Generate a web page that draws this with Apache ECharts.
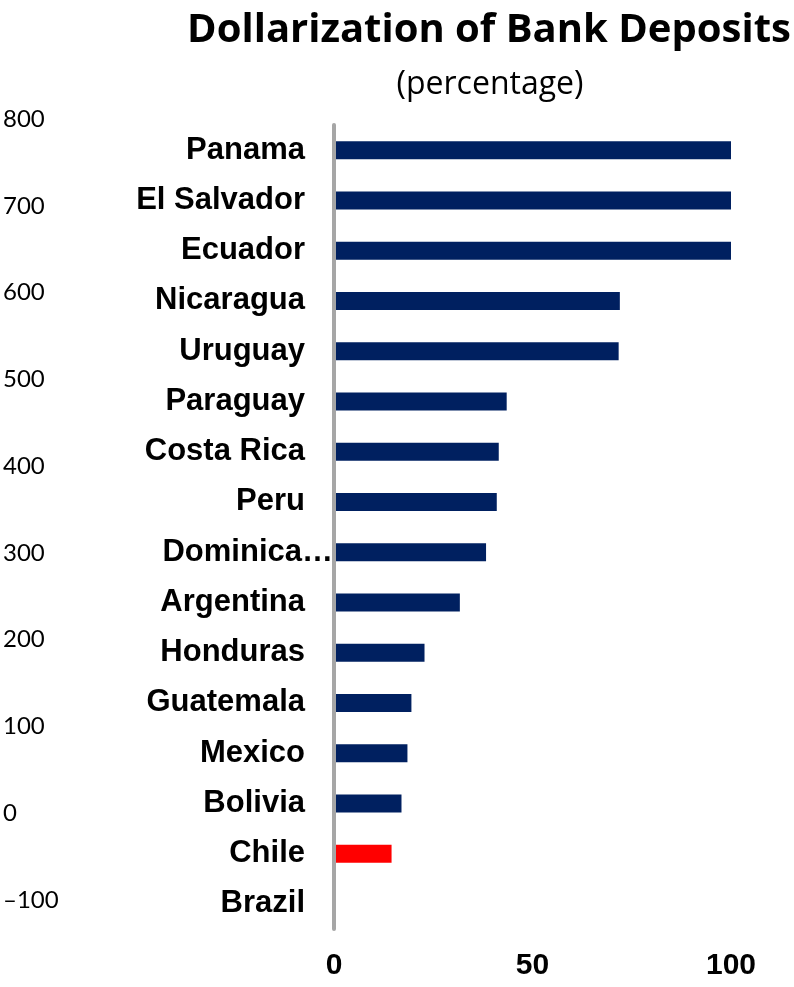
<!DOCTYPE html>
<html>
<head>
<meta charset="utf-8">
<script src="https://cdn.jsdelivr.net/npm/echarts@6/dist/echarts.min.js"></script>
<style>
  html, body { margin: 0; padding: 0; background: #fff; }
  #main { width: 794px; height: 987px; }
</style>
</head>
<body>
<div id="main"></div>
<script>
var countries = ['Panama', 'El Salvador', 'Ecuador', 'Nicaragua', 'Uruguay', 'Paraguay',
    'Costa Rica', 'Peru', 'Dominican Republic', 'Argentina', 'Honduras', 'Guatemala',
    'Mexico', 'Bolivia', 'Chile', 'Brazil'];
var dollarization = [100, 100, 100, 72, 71.7, 43.5, 41.5, 41, 38.3, 31.7, 22.8, 19.5, 18.5, 17, 14.5, 0];
var highlight = 'Chile';
var xTicks = [0, 50, 100];
var leftTicks = [-100, 800, 100]; // min, max, step of the stray left axis

var myChart = echarts.init(document.getElementById('main'));

var barData = countries.map(function (c, i) {
    return {
        value: dollarization[i],
        itemStyle: { color: c === highlight ? '#ff0000' : '#002060' }
    };
});

var labelFont = { color: '#000', fontFamily: 'Liberation Sans', fontWeight: 'bold', fontSize: 31 };

var option = {
    animation: false,
    title: [
        {
            text: 'Dollarization of Bank Deposits',
            left: 484, top: 6, textAlign: 'center',
            textStyle: { fontFamily: 'Open Sans', fontWeight: 'bold', fontSize: 40, color: '#000' }
        },
        {
            text: '(percentage)',
            left: 485, top: 64, textAlign: 'center',
            textStyle: { fontFamily: 'Open Sans', fontWeight: 'normal', fontSize: 32, color: '#000' }
        }
    ],
    grid: [
        { left: 334, right: 63, top: 125, bottom: 58 },
        { left: 60, width: 10, top: 119, height: 781 }
    ],
    xAxis: [
        {
            gridIndex: 0, type: 'value',
            min: xTicks[0], max: xTicks[xTicks.length - 1], interval: 50,
            axisLine: { show: false }, axisTick: { show: false }, splitLine: { show: false },
            axisLabel: { margin: 22, color: '#000', fontFamily: 'Liberation Sans', fontWeight: 'bold', fontSize: 30 }
        },
        { gridIndex: 1, type: 'value', show: false }
    ],
    yAxis: [
        {
            gridIndex: 0, type: 'category', data: countries, inverse: true, z: 3,
            axisLine: { lineStyle: { color: '#a6a6a6', width: 4 } },
            axisTick: { show: false },
            axisLabel: Object.assign({
                margin: 29,
                formatter: function (v) {
                    // long names get cut, the ellipsis hangs past the label edge
                    if (v.length > 12) return '{n|' + v.slice(0, 8) + '}{e|…}';
                    return v;
                },
                rich: {
                    n: labelFont,
                    e: Object.assign({ padding: [0, -28, 0, 0] }, labelFont)
                }
            }, labelFont)
        },
        {
            gridIndex: 1, type: 'value',
            min: leftTicks[0], max: leftTicks[1], interval: leftTicks[2],
            axisLine: { show: false }, axisTick: { show: false }, splitLine: { show: false },
            axisLabel: {
                align: 'left', margin: 58, color: '#000', fontFamily: 'Lato', fontSize: 24,
                formatter: function (v) { return String(v).replace('-', '–'); }
            }
        }
    ],
    series: [
        {
            type: 'bar', xAxisIndex: 0, yAxisIndex: 0,
            barWidth: 18,
            data: barData
        }
    ]
};

myChart.setOption(option);
</script>
</body>
</html>
